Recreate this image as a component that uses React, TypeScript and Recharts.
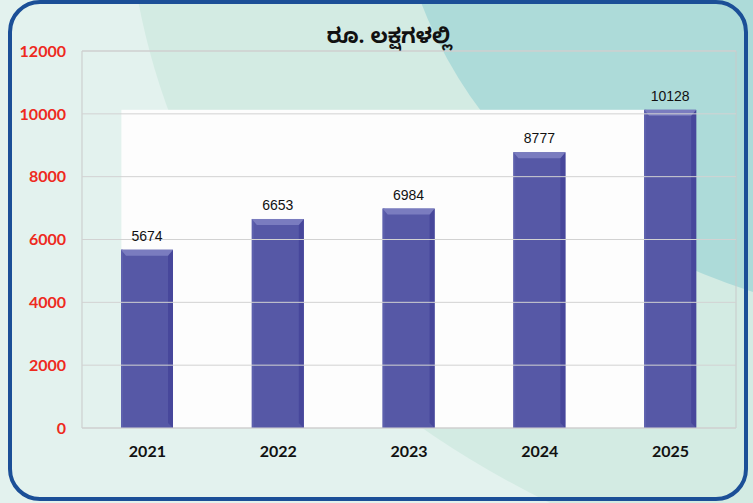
import React from "react";
import {
  Bar,
  BarChart,
  LabelList,
  ReferenceArea,
  ReferenceLine,
  XAxis,
  YAxis,
} from "recharts";

const years = ["2021", "2022", "2023", "2024", "2025"];
const amounts = [5674, 6653, 6984, 8777, 10128];
const yTicks = [0, 2000, 4000, 6000, 8000, 10000, 12000];
const title = "ರೂ. ಲಕ್ಷಗಳಲ್ಲಿ";

const BAR_SIZE = 52;

const data = years.map((year, i) => ({ year, amount: amounts[i] }));

function BevelBar(props: any) {
  const { x, y, width, height } = props;
  if (!height || height <= 0) return null;
  const side = 5;
  const top = 6;
  return (
    <g>
      <rect x={x} y={y} width={width} height={height} fill="#5658a6" />
      <rect x={x} y={y} width={2} height={height} fill="#5d60ad" />
      <polygon
        points={`${x + width},${y} ${x + width},${y + height} ${x + width - side},${y + height - side} ${x + width - side},${y + top}`}
        fill="#47479b"
      />
      <polygon
        points={`${x},${y} ${x + width},${y} ${x + width - side},${y + top} ${x + side},${y + top}`}
        fill="#7a7cbf"
      />
    </g>
  );
}

// white panel behind the bars: from the first bar's left edge to the last bar's left edge
function WhitePanel(props: any) {
  const { x, y, width, height } = props;
  const band = width / 4;
  const shift = (band - BAR_SIZE) / 2;
  return (
    <rect x={x + shift} y={y} width={width} height={height} fill="#fdfdfd" />
  );
}

function Backdrop() {
  return (
    <svg
      width={753}
      height={503}
      style={{ position: "absolute", left: 0, top: 0 }}
    >
      <rect width={753} height={503} fill="#e3f2ee" />
      <path d="M138 0 Q200 330 550 503 L753 503 L753 0 Z" fill="#d3ebe3" />
      <path d="M420 0 Q500 210 753 292 L753 0 Z" fill="#addbd9" />
    </svg>
  );
}

export default function App() {
  return (
    <div
      style={{
        position: "absolute",
        left: 0,
        top: 0,
        width: 753,
        height: 503,
        overflow: "hidden",
      }}
    >
      <Backdrop />
      <div
        style={{
          position: "absolute",
          left: 8,
          top: 0,
          width: 740,
          height: 501,
          boxSizing: "border-box",
          border: "4.5px solid #1b4f97",
          borderRadius: 32,
        }}
      />
      <div style={{ position: "absolute", left: 0, top: 0 }}>
        <BarChart
          width={753}
          height={503}
          data={data}
          margin={{ top: 51, right: 17, bottom: 45, left: 0 }}
          barSize={BAR_SIZE}
        >
          <ReferenceArea
            x1="2021"
            x2="2024"
            y1={0}
            y2={amounts[amounts.length - 1]}
            shape={<WhitePanel />}
          />
          {yTicks.map((t) => (
            <ReferenceLine key={t} y={t} stroke="#d2d2d2" strokeWidth={1} />
          ))}
          <ReferenceArea
            y1={0}
            y2={12000}
            fill="none"
            fillOpacity={0}
            stroke="#c9c9c9"
            strokeWidth={1}
          />
          <XAxis
            dataKey="year"
            axisLine={false}
            tickLine={false}
            tickSize={6}
            tickMargin={12}
            tick={{
              fill: "#111111",
              fontSize: 16,
              fontWeight: 700,
              fontFamily: "Lato, 'Liberation Sans', sans-serif",
            }}
          />
          <YAxis
            width={82}
            domain={[0, 12000]}
            ticks={yTicks}
            axisLine={false}
            tickLine={false}
            tickSize={6}
            tickMargin={10}
            tick={{
              fill: "#ee2a1e",
              fontSize: 16,
              fontWeight: 700,
              fontFamily: "Lato, 'Liberation Sans', sans-serif",
            }}
          />
          <Bar dataKey="amount" shape={<BevelBar />} isAnimationActive={false}>
            <LabelList
              dataKey="amount"
              position="top"
              offset={9}
              fill="#111111"
              fontSize={14}
              fontFamily="'Liberation Sans', Arial, sans-serif"
            />
          </Bar>
        </BarChart>
      </div>
      <div
        style={{
          position: "absolute",
          left: 0,
          width: 778,
          top: 25,
          textAlign: "center",
          fontFamily: "'Noto Sans Kannada', 'Noto Sans', sans-serif",
          fontWeight: 700,
          fontSize: 21,
          lineHeight: "30px",
          color: "#111111",
        }}
      >
        {title}
      </div>
    </div>
  );
}
